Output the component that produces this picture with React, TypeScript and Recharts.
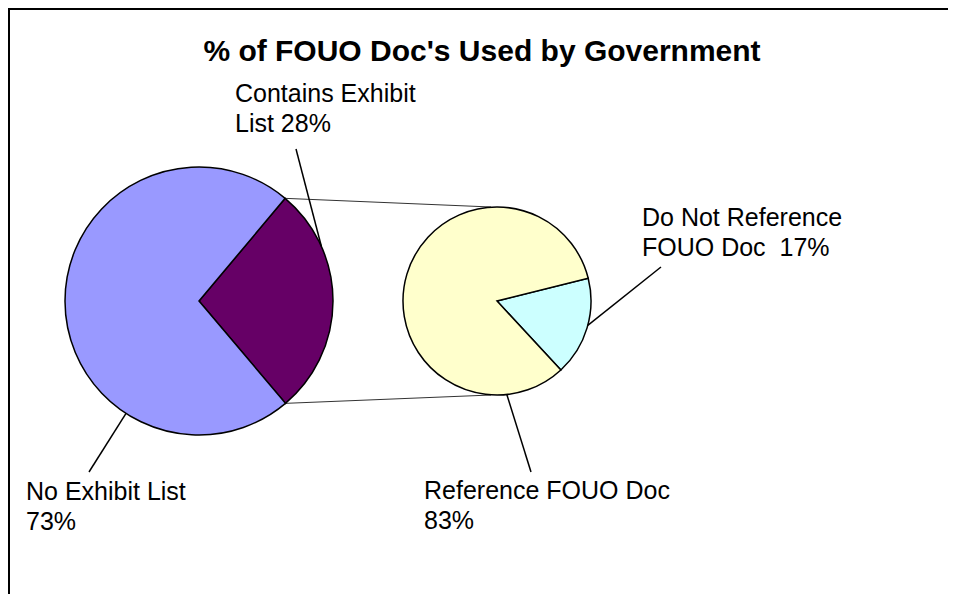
import React from 'react';
import { PieChart, Pie, Cell, Customized } from 'recharts';

// primary pie: all FOUO docs
const mainNames = ['Contains Exhibit List', 'No Exhibit List'];
const mainValues = [28, 73];
// secondary pie: breakdown of "Contains Exhibit List"
const subNames = ['Do Not Reference FOUO Doc', 'Reference FOUO Doc'];
const subValues = [17, 83];

const mainData = mainNames.map((name, i) => ({ name, value: mainValues[i] }));
const subData = subNames.map((name, i) => ({ name, value: subValues[i] }));

const mainColors = ['#660066', '#9999FF'];
const subColors = ['#CCFFFF', '#FFFFCC'];

const W = 948;
const H = 586;
const FONT = '"Liberation Sans", Arial, sans-serif';

const MAIN = { cx: 191, cy: 293, r: 134, start: 50 };
const SUB = { cx: 489, cy: 293, r: 94, start: 14 };

// label text placement and leader line geometry
const labelLayout: Record<string, { x: number; y: number; lines: (v: number) => string[]; attach: number; end: [number, number] }> = {
  'Contains Exhibit List': { x: 227, y: 94, lines: (v) => ['Contains Exhibit', `List ${v}%`], attach: 24, end: [288, 141] },
  'No Exhibit List': { x: 18, y: 492, lines: (v) => ['No Exhibit List', `${v}%`], attach: 237, end: [81, 464] },
  'Do Not Reference FOUO Doc': { x: 634, y: 218, lines: (v) => ['Do Not Reference', `FOUO Doc  ${v}%`], attach: -15, end: [653, 259] },
  'Reference FOUO Doc': { x: 416, y: 491, lines: (v) => ['Reference FOUO Doc', `${v}%`], attach: -84, end: [523, 464] },
};

const RAD = Math.PI / 180;
const polar = (cx: number, cy: number, r: number, a: number) => [cx + r * Math.cos(-a * RAD), cy + r * Math.sin(-a * RAD)];

const renderLabel = (props: any) => {
  const { cx, cy, outerRadius, name, value } = props;
  const lay = labelLayout[name];
  if (!lay) return null;
  const [sx, sy] = polar(cx, cy, outerRadius, lay.attach);
  const lines = lay.lines(value);
  return (
    <g>
      <line x1={sx} y1={sy} x2={lay.end[0]} y2={lay.end[1]} stroke="#000" strokeWidth={1.5} />
      <text x={lay.x} y={lay.y} fontFamily={FONT} fontSize={25} fill="#000" style={{ whiteSpace: 'pre' }}>
        {lines.map((t, i) => (
          <tspan key={i} x={lay.x} dy={i === 0 ? 0 : 30}>
            {t}
          </tspan>
        ))}
      </text>
    </g>
  );
};

const Extras = () => {
  const total = mainValues.reduce((a, b) => a + b, 0);
  const a0 = MAIN.start;
  const a1 = MAIN.start - (360 * mainValues[0]) / total;
  const [tx, ty] = polar(MAIN.cx, MAIN.cy, MAIN.r, a0);
  const [bx, by] = polar(MAIN.cx, MAIN.cy, MAIN.r, a1);
  return (
    <g>
      <line x1={0} y1={1} x2={W} y2={1} stroke="#000" strokeWidth={2} />
      <line x1={1} y1={0} x2={1} y2={H} stroke="#000" strokeWidth={2} />
      <line x1={tx} y1={ty} x2={SUB.cx - 6} y2={SUB.cy - SUB.r} stroke="#333" strokeWidth={1} />
      <line x1={bx} y1={by} x2={SUB.cx - 6} y2={SUB.cy + SUB.r} stroke="#333" strokeWidth={1} />
      <text x={474} y={53} textAnchor="middle" fontFamily={FONT} fontSize={30} fontWeight="bold" fill="#000">
        % of FOUO Doc's Used by Government
      </text>
    </g>
  );
};

export default function App() {
  return (
    <div style={{ width: W, height: H, background: '#fff' }}>
      <PieChart width={W} height={H} margin={{ top: 0, right: 0, bottom: 0, left: 0 }}>
        <Pie
          data={mainData}
          dataKey="value"
          nameKey="name"
          cx={MAIN.cx}
          cy={MAIN.cy}
          outerRadius={MAIN.r}
          startAngle={MAIN.start}
          endAngle={MAIN.start - 360}
          stroke="#000"
          strokeWidth={1.5}
          label={renderLabel}
          labelLine={false}
          isAnimationActive={false}
        >
          {mainData.map((d, i) => (
            <Cell key={d.name} fill={mainColors[i]} />
          ))}
        </Pie>
        <Pie
          data={subData}
          dataKey="value"
          nameKey="name"
          cx={SUB.cx}
          cy={SUB.cy}
          outerRadius={SUB.r}
          startAngle={SUB.start}
          endAngle={SUB.start - 360}
          stroke="#000"
          strokeWidth={1.5}
          label={renderLabel}
          labelLine={false}
          isAnimationActive={false}
        >
          {subData.map((d, i) => (
            <Cell key={d.name} fill={subColors[i]} />
          ))}
        </Pie>
        <Customized component={Extras} />
      </PieChart>
    </div>
  );
}
